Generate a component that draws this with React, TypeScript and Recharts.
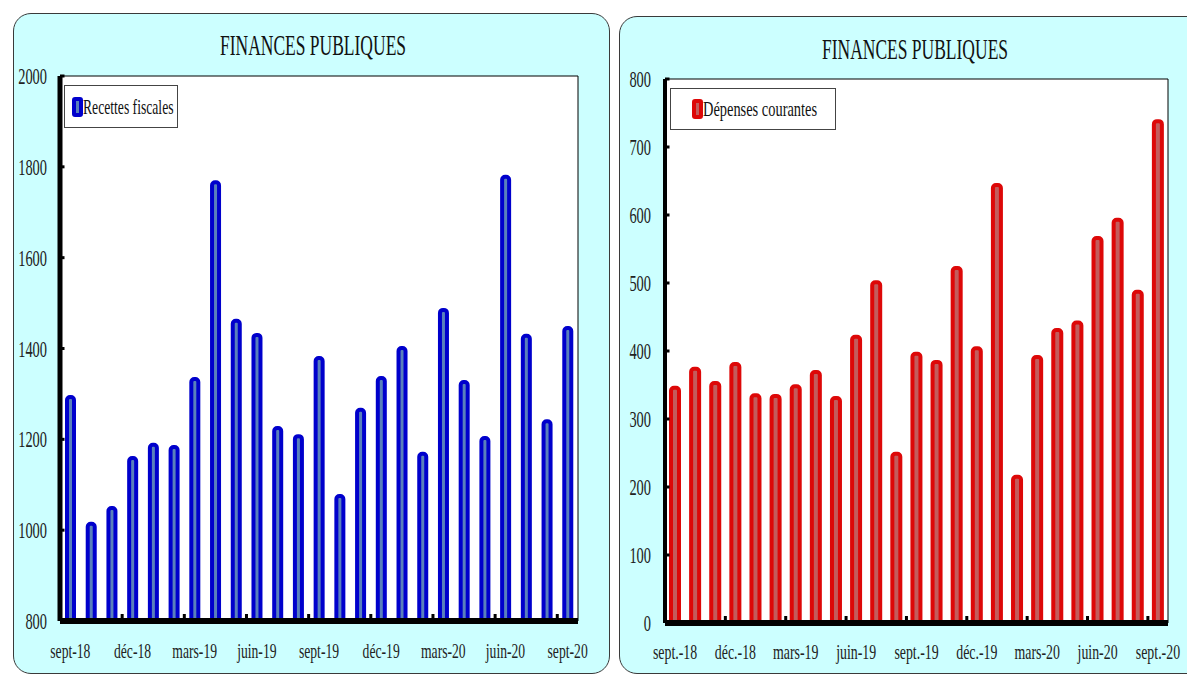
import React from 'react';
import { BarChart, Bar, XAxis, YAxis, CartesianGrid, ReferenceArea, Legend } from 'recharts';

const leftMonths = ['sept-18','oct-18','nov-18','déc-18','janv-19','févr-19','mars-19','avr-19','mai-19','juin-19','juil-19','août-19','sept-19','oct-19','nov-19','déc-19','janv-20','févr-20','mars-20','avr-20','mai-20','juin-20','juil-20','août-20','sept-20'];
const rightMonths = ['sept.-18','oct.-18','nov.-18','déc.-18','janv.-19','févr.-19','mars-19','avr.-19','mai-19','juin-19','juil.-19','août-19','sept.-19','oct.-19','nov.-19','déc.-19','janv.-20','févr.-20','mars-20','avr.-20','mai-20','juin-20','juil.-20','août-20','sept.-20'];
const recettesFiscales = [1293,1014,1049,1159,1188,1183,1333,1766,1461,1430,1225,1207,1379,1075,1265,1335,1401,1168,1485,1326,1203,1778,1428,1240,1445];
const depensesCourantes = [346,374,353,381,335,334,348,369,331,421,501,249,396,384,522,404,644,215,391,431,442,566,593,487,738];
const leftTicks = [800,1000,1200,1400,1600,1800,2000];
const rightTicks = [0,100,200,300,400,500,600,700,800];

const leftData = leftMonths.map((m, i) => ({ m, v: recettesFiscales[i] }));
const rightData = rightMonths.map((m, i) => ({ m, v: depensesCourantes[i] }));

const FONT = '"Liberation Serif", "Times New Roman", serif';

const makeYTick = (margin: number) => (p: any) => {
  const { x, y, payload } = p;
  return (
    <g>
      <rect x={x + margin} y={y - 1.5} width={4.5} height={3} fill="#000" />
      <text transform={`translate(${x},${y + 8}) scale(0.6,1)`} textAnchor="end" fontFamily={FONT} fontSize={24} fill="#222">
        {payload.value}
      </text>
    </g>
  );
};

const makeXTick = (margin: number, sx: number) => (p: any) => {
  const { x, y, payload } = p;
  const off = payload && typeof payload.offset === 'number' ? payload.offset : 10;
  const axisY = y - margin;
  return (
    <g>
      <rect x={x - off - 1.5} y={axisY - 7} width={3} height={7} fill="#000" />
      <text transform={`translate(${x},${y}) scale(${sx},1)`} textAnchor="middle" fontFamily={FONT} fontSize={22} fill="#222">
        {payload.value}
      </text>
    </g>
  );
};

const LegendBox = ({ label, stroke, fill, width, height, padLeft, sx }: any) => (
  <div style={{ width, height, boxSizing: 'border-box', border: '1px solid #444', background: '#fff', display: 'flex', alignItems: 'center', paddingLeft: padLeft }}>
    <span style={{ width: 11, height: 20, boxSizing: 'border-box', border: `4px solid ${stroke}`, background: fill, borderRadius: 3, display: 'inline-block', flex: 'none' }} />
    <span style={{ fontFamily: FONT, fontSize: 22, transform: `scaleX(${sx})`, transformOrigin: 'left center', whiteSpace: 'nowrap', color: '#111', lineHeight: '22px' }}>{label}</span>
  </div>
);

const Title = ({ cx, top }: any) => (
  <div style={{ position: 'absolute', left: cx - 200, top, width: 400, height: 30, lineHeight: '30px', textAlign: 'center', fontFamily: FONT, fontSize: 30, color: '#111', transform: 'scaleX(0.583)', whiteSpace: 'nowrap' }}>
    FINANCES PUBLIQUES
  </div>
);

export default function App() {
  return (
    <div style={{ position: 'absolute', left: 0, top: 0, width: 1187, height: 675, overflow: 'hidden', background: '#fff' }}>
      <div style={{ position: 'absolute', left: 13, top: 13, width: 597, height: 661, boxSizing: 'border-box', border: '1px solid #3a3a3a', borderRadius: 18, background: '#CCFFFF' }} />
      <div style={{ position: 'absolute', left: 619, top: 16, width: 600, height: 658, boxSizing: 'border-box', border: '1px solid #3a3a3a', borderRadius: 18, background: '#CCFFFF' }} />
      <Title cx={313} top={30} />
      <Title cx={915} top={34} />

      <div style={{ position: 'absolute', left: 0, top: 0 }}>
        <BarChart width={610} height={675} data={leftData} margin={{ top: 76, right: 32, left: 0, bottom: 14 }}>
          <CartesianGrid fill="#fff" horizontal={false} vertical={false} />
          <ReferenceArea y1={800} y2={2000} fill="none" stroke="#000" strokeWidth={1} ifOverflow="visible" />
          <XAxis dataKey="m" interval={2} tickLine={false} tickSize={0} tickMargin={37} height={40} axisLine={{ stroke: '#000', strokeWidth: 6 }} tick={makeXTick(37, 0.62)} />
          <YAxis domain={[800, 2000]} ticks={leftTicks} width={60} tickLine={false} tickSize={0} tickMargin={13} axisLine={{ stroke: '#000', strokeWidth: 5 }} tick={makeYTick(13)} allowDataOverflow />
          <Legend layout="vertical" align="center" verticalAlign="middle" wrapperStyle={{ left: 64, top: 85 }}
            content={() => <LegendBox label="Recettes fiscales" stroke="#0000CC" fill="#5A80BC" width={114} height={43} padLeft={7} sx={0.62} />} />
          <Bar dataKey="v" name="Recettes fiscales" fill="#5A80BC" stroke="#0000CC" strokeWidth={4} barSize={7} radius={[3, 3, 0, 0]} isAnimationActive={false} />
        </BarChart>
      </div>

      <div style={{ position: 'absolute', left: 610, top: 0 }}>
        <BarChart width={577} height={675} data={rightData} margin={{ top: 79, right: 19, left: 0, bottom: 12 }}>
          <CartesianGrid fill="#fff" horizontal={false} vertical={false} />
          <ReferenceArea y1={0} y2={800} fill="none" stroke="#000" strokeWidth={1} ifOverflow="visible" />
          <XAxis dataKey="m" interval={2} tickLine={false} tickSize={0} tickMargin={36} height={40} axisLine={{ stroke: '#000', strokeWidth: 6 }} tick={makeXTick(36, 0.63)} />
          <YAxis domain={[0, 800]} ticks={rightTicks} width={55} tickLine={false} tickSize={0} tickMargin={14} axisLine={{ stroke: '#000', strokeWidth: 4 }} tick={makeYTick(14)} allowDataOverflow />
          <Legend layout="vertical" align="center" verticalAlign="middle" wrapperStyle={{ left: 60, top: 88 }}
            content={() => <LegendBox label="Dépenses courantes" stroke="#DD0808" fill="#C45C5C" width={166} height={42} padLeft={21} sx={0.655} />} />
          <Bar dataKey="v" name="Dépenses courantes" fill="#C45C5C" stroke="#DD0808" strokeWidth={4} barSize={8} radius={[3, 3, 0, 0]} isAnimationActive={false} />
        </BarChart>
      </div>
    </div>
  );
}
